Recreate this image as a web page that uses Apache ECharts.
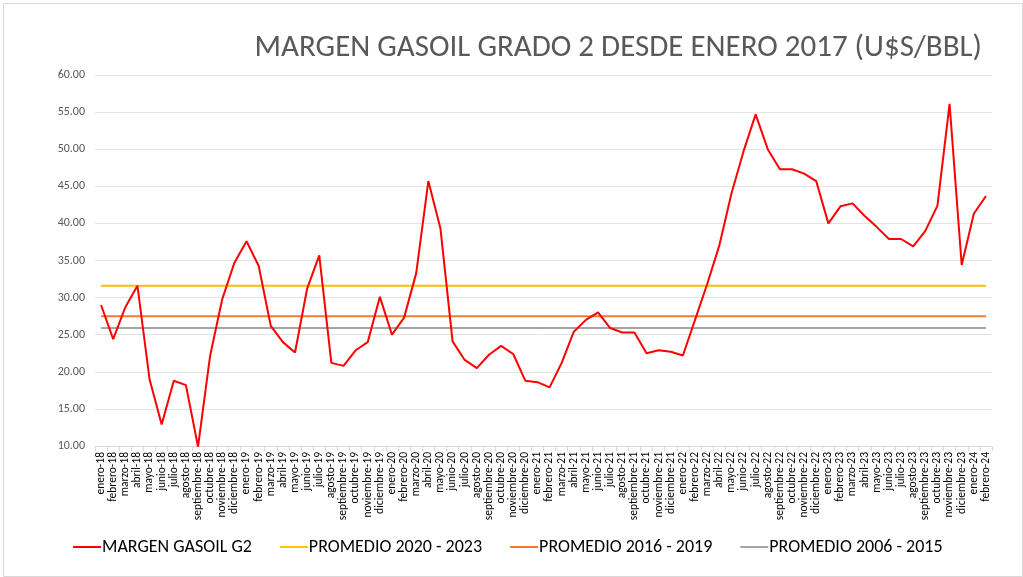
<!DOCTYPE html>
<html>
<head>
<meta charset="utf-8">
<script src="https://cdn.jsdelivr.net/npm/echarts@6/dist/echarts.min.js"></script>
<style>html,body{margin:0;padding:0;background:#fff;}#c{width:1023px;height:577px;}</style>
</head>
<body>
<div id="c"></div>
<script>
const months = ['enero','febrero','marzo','abril','mayo','junio','julio','agosto','septiembre','octubre','noviembre','diciembre'];
const categories = [];
for (let y = 18; y <= 24; y++) {
  for (let m = 0; m < 12; m++) {
    if (y === 24 && m > 1) break;
    categories.push(months[m] + '-' + y);
  }
}
const margenG2 = [
  29.0, 24.4, 28.7, 31.6, 19.0, 12.9, 18.8, 18.2, 9.9, 22.2, 29.8, 34.7,
  37.6, 34.3, 26.2, 24.0, 22.6, 31.2, 35.7, 21.2, 20.8, 22.9, 24.0, 30.1,
  25.0, 27.3, 33.3, 45.7, 39.3, 24.1, 21.6, 20.5, 22.3, 23.5, 22.4, 18.8,
  18.6, 17.9, 21.2, 25.4, 27.0, 28.0, 25.9, 25.3, 25.3, 22.5, 22.9, 22.7,
  22.2, 27.0, 31.8, 37.0, 44.0, 49.7, 54.7, 50.0, 47.3, 47.3, 46.7, 45.7,
  40.0, 42.3, 42.7, 41.0, 39.5, 37.9, 37.9, 36.9, 39.0, 42.4, 56.1, 34.4,
  41.3, 43.7
];
const prom2020_2023 = 31.6;
const prom2016_2019 = 27.5;
const prom2006_2015 = 25.9;
const seriesNames = ['MARGEN GASOIL G2', 'PROMEDIO 2020 - 2023', 'PROMEDIO 2016 - 2019', 'PROMEDIO 2006 - 2015'];
const titleText = 'MARGEN GASOIL GRADO 2 DESDE ENERO 2017 (U$S/BBL)';

const FONT = "Carlito, 'Liberation Sans Narrow', 'Open Sans', sans-serif";
const flat = v => categories.map(() => v);

const chart = echarts.init(document.getElementById('c'), null, {renderer: 'canvas'});
chart.setOption({
  animation: false,
  backgroundColor: '#fff',
  textStyle: {fontFamily: FONT},
  graphic: [{
    type: 'rect', left: 1, top: 1, silent: true,
    shape: {width: 1019, height: 573},
    style: {fill: 'none', stroke: '#d9d9d9', lineWidth: 1}
  }],
  title: {
    text: titleText, right: 36, top: 28,
    textStyle: {fontFamily: FONT, fontSize: 31, fontWeight: 'normal', color: '#595959'}
  },
  legend: {
    bottom: 16, left: 68,
    icon: 'rect', itemWidth: 28, itemHeight: 2, itemGap: 28,
    textStyle: {fontFamily: FONT, fontSize: 18, color: '#000', padding: [0,0,0,-4]},
    data: seriesNames
  },
  grid: {left: 95, right: 31, top: 75, bottom: 131},
  xAxis: {
    type: 'category', data: categories, boundaryGap: true,
    axisLine: {lineStyle: {color: '#d9d9d9'}},
    axisTick: {show: true, interval: 0, lineStyle: {color: '#d9d9d9'}},
    axisLabel: {interval: 0, rotate: 90, fontSize: 11.5, color: '#000', fontFamily: FONT, margin: 6}
  },
  yAxis: {
    type: 'value', min: 10, max: 60, interval: 5,
    axisLine: {show: false}, axisTick: {show: false},
    splitLine: {lineStyle: {color: '#e3e3e3'}},
    axisLabel: {formatter: v => v.toFixed(2), fontSize: 12, color: '#595959', fontFamily: FONT, margin: 10}
  },
  series: [
    {name: seriesNames[0], type: 'line', data: margenG2, symbol: 'none', z: 5,
     lineStyle: {color: '#ff0000', width: 2}, itemStyle: {color: '#ff0000'}},
    {name: seriesNames[1], type: 'line', data: flat(prom2020_2023), symbol: 'none',
     lineStyle: {color: '#ffc000', width: 2}, itemStyle: {color: '#ffc000'}},
    {name: seriesNames[2], type: 'line', data: flat(prom2016_2019), symbol: 'none',
     lineStyle: {color: '#ed7d31', width: 2}, itemStyle: {color: '#ed7d31'}},
    {name: seriesNames[3], type: 'line', data: flat(prom2006_2015), symbol: 'none',
     lineStyle: {color: '#a5a5a5', width: 2}, itemStyle: {color: '#a5a5a5'}}
  ]
});
</script>
</body>
</html>
